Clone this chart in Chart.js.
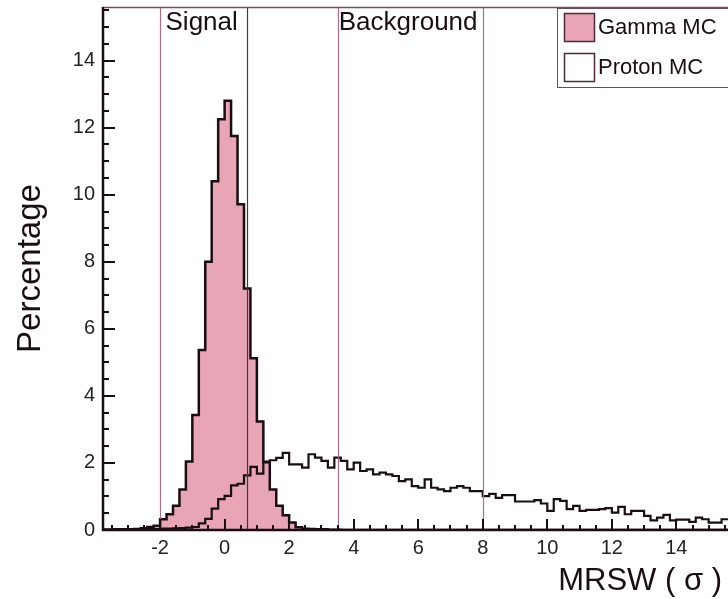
<!DOCTYPE html>
<html>
<head>
<meta charset="utf-8">
<script src="https://cdn.jsdelivr.net/npm/chart.js@4/dist/chart.umd.min.js"></script>
<style>
  html, body { margin: 0; padding: 0; background: #fff; }
</style>
</head>
<body>
<canvas id="chart" width="728" height="599"></canvas>
<script>
// histogram binning (lower edges + final upper edge), MRSW in sigma
const binEdges = [
  -3.8, -3.6, -3.4, -3.2, -3, -2.8, -2.6, -2.4, -2.2, -2,
  -1.8, -1.6, -1.4, -1.2, -1, -0.8, -0.6, -0.4, -0.2, 0,
  0.2, 0.4, 0.6, 0.8, 1, 1.2, 1.4, 1.6, 1.8, 2,
  2.2, 2.4, 2.6, 2.8, 3, 3.2, 3.4, 3.6, 3.8, 4,
  4.2, 4.4, 4.6, 4.8, 5, 5.2, 5.4, 5.6, 5.8, 6,
  6.2, 6.4, 6.6, 6.8, 7, 7.2, 7.4, 7.6, 7.8, 8,
  8.2, 8.4, 8.6, 8.8, 9, 9.2, 9.4, 9.6, 9.8, 10,
  10.2, 10.4, 10.6, 10.8, 11, 11.2, 11.4, 11.6, 11.8, 12,
  12.2, 12.4, 12.6, 12.8, 13, 13.2, 13.4, 13.6, 13.8, 14,
  14.2, 14.4, 14.6, 14.8, 15, 15.2, 15.4, 15.6,
];

// percentage per bin
const gammaPct = [
  0.01, 0.01, 0.02, 0.02, 0.02, 0.03, 0.05, 0.09, 0.13, 0.32,
  0.47, 0.72, 1.21, 2.04, 3.43, 5.37, 8.0, 10.4, 12.25, 12.8,
  11.75, 9.72, 7.2, 5.12, 3.24, 2.02, 1.21, 0.72, 0.44, 0.22,
  0.08, 0.04, 0.03, 0.02, 0.02, 0.01, 0.01, 0, 0, 0,
  0, 0, 0, 0, 0, 0, 0, 0, 0, 0,
  0, 0, 0, 0, 0, 0, 0, 0, 0, 0,
  0, 0, 0, 0, 0, 0, 0, 0, 0, 0,
  0, 0, 0, 0, 0, 0, 0, 0, 0, 0,
  0, 0, 0, 0, 0, 0, 0, 0, 0, 0,
  0, 0, 0, 0, 0, 0, 0,
];

const protonPct = [
  0.01, 0.01, 0.01, 0.01, 0.02, 0.02, 0.02, 0.03, 0.03, 0.04,
  0.04, 0.05, 0.06, 0.07, 0.09, 0.2, 0.33, 0.64, 0.92, 1.02,
  1.33, 1.38, 1.63, 1.88, 1.68, 2.04, 2.08, 2.15, 2.3, 1.96,
  1.96, 1.86, 2.26, 2.16, 2.06, 1.86, 2.16, 2.06, 1.81, 2.01,
  1.76, 1.81, 1.66, 1.71, 1.66, 1.61, 1.46, 1.51, 1.31, 1.26,
  1.51, 1.26, 1.21, 1.16, 1.26, 1.31, 1.26, 1.16, 1.16, 1.01,
  1.08, 0.96, 1.04, 1.04, 0.85, 0.85, 0.85, 0.89, 0.79, 0.57,
  0.92, 0.87, 0.62, 0.72, 0.57, 0.6, 0.6, 0.62, 0.65, 0.52,
  0.69, 0.47, 0.57, 0.57, 0.42, 0.29, 0.37, 0.45, 0.29, 0.31,
  0.31, 0.24, 0.37, 0.32, 0.22, 0.22, 0.32,
];

const seriesNames = ["Gamma MC", "Proton MC"];
const cutValues = [-2, 0.7, 3.5, 8];
const regionNames = ["Signal", "Background"];

const PINK = "#e7a5b5";
const INK = "#1a0d13";
const FONT = '"Liberation Sans", Arial, sans-serif';

function toSteps(values) {
  // one point per lower edge, last edge repeats the last value
  return binEdges.map((e, i) => ({ x: e, y: values[Math.min(i, values.length - 1)] }));
}

function noEdgePadding(scale) {
  scale.paddingTop = 0;
  scale.paddingBottom = 0;
  scale.paddingLeft = 0;
  scale.paddingRight = 0;
}

const decor = {
  id: "decor",
  afterDatasetsDraw(chart) {
    const { ctx, chartArea: a, scales: { x, y } } = chart;
    ctx.save();

    // cut lines
    cutValues.forEach((v, i) => {
      const px = Math.round(x.getPixelForValue(v)) + 0.5;
      ctx.strokeStyle = i === 1 ? "#4b3441" : "#a86f8a";
      ctx.lineWidth = 1.2;
      ctx.beginPath();
      ctx.moveTo(px, a.top);
      ctx.lineTo(px, a.bottom);
      ctx.stroke();
    });

    // region names centred between pairs of cuts
    ctx.fillStyle = INK;
    ctx.font = `26px ${FONT}`;
    ctx.textAlign = "center";
    ctx.textBaseline = "alphabetic";
    regionNames.forEach((name, i) => {
      const l = x.getPixelForValue(cutValues[i * 2]);
      const r = x.getPixelForValue(cutValues[i * 2 + 1]);
      ctx.fillText(name, (l + r) / 2 - 2, 30);
    });

    // frame top
    ctx.strokeStyle = "#7d4a62";
    ctx.lineWidth = 1.5;
    ctx.beginPath();
    ctx.moveTo(a.left, a.top + 0.5);
    ctx.lineTo(a.right, a.top + 0.5);
    ctx.stroke();

    // axes
    ctx.strokeStyle = INK;
    ctx.lineWidth = 2.5;
    ctx.beginPath();
    ctx.moveTo(a.left + 1, a.top);
    ctx.lineTo(a.left + 1, a.bottom);
    ctx.lineTo(a.right, a.bottom);
    ctx.stroke();

    // inward ticks
    ctx.lineWidth = 2;
    ctx.beginPath();
    for (let v = 0.5; v < y.max; v += 0.5) {
      const py = Math.round(y.getPixelForValue(v));
      const len = v % 2 === 0 ? 13 : 7;
      ctx.moveTo(a.left, py);
      ctx.lineTo(a.left + len, py);
    }
    for (let v = -3.5; v < x.max; v += 0.5) {
      const px = Math.round(x.getPixelForValue(v));
      const len = v % 2 === 0 ? 11 : 5;
      ctx.moveTo(px, a.bottom);
      ctx.lineTo(px, a.bottom - len);
    }
    ctx.stroke();
    ctx.restore();
  },
  afterDraw(chart) {
    const { ctx, chartArea: a } = chart;
    ctx.save();

    // axis titles
    ctx.fillStyle = INK;
    ctx.font = `31px ${FONT}`;
    ctx.textAlign = "right";
    ctx.textBaseline = "alphabetic";
    ctx.fillText("MRSW ( σ )", 722, 590);

    ctx.translate(40, (a.top + a.bottom) / 2);
    ctx.rotate(-Math.PI / 2);
    ctx.font = `33px ${FONT}`;
    ctx.textAlign = "center";
    ctx.fillText("Percentage", 0, 0);
    ctx.setTransform(1, 0, 0, 1, 0, 0);

    // legend
    const lx = 557, ly = 8, lw = 180, lh = 79;
    ctx.fillStyle = "#fff";
    ctx.fillRect(lx, ly, lw, lh);
    ctx.strokeStyle = "#6b4a5a";
    ctx.lineWidth = 1;
    ctx.strokeRect(lx + 0.5, ly + 0.5, lw, lh);

    const swatch = [PINK, "#fff"];
    ctx.font = `22px ${FONT}`;
    ctx.textAlign = "left";
    ctx.textBaseline = "middle";
    seriesNames.forEach((name, i) => {
      const sy = 13 + i * 40;
      ctx.fillStyle = swatch[i];
      ctx.fillRect(564, sy, 31, 29);
      ctx.strokeStyle = "#4b2a3a";
      ctx.lineWidth = 1.5;
      ctx.strokeRect(564.5, sy + 0.5, 30, 28);
      ctx.fillStyle = INK;
      ctx.fillText(name, 598, sy + 15);
    });
    ctx.restore();
  },
};

new Chart(document.getElementById("chart"), {
  type: "line",
  data: {
    datasets: [
      {
        label: seriesNames[0],
        data: toSteps(gammaPct),
        stepped: "before",
        fill: "origin",
        backgroundColor: PINK,
        borderColor: INK,
        borderWidth: 2.5,
        pointRadius: 0,
        order: 2,
      },
      {
        label: seriesNames[1],
        data: toSteps(protonPct),
        stepped: "before",
        fill: false,
        borderColor: INK,
        borderWidth: 2.2,
        pointRadius: 0,
        order: 1,
      },
    ],
  },
  options: {
    responsive: false,
    animation: false,
    devicePixelRatio: 1,
    layout: { padding: { top: 7, right: 0, left: 0, bottom: 0 } },
    plugins: { legend: { display: false }, tooltip: { enabled: false } },
    scales: {
      x: {
        type: "linear",
        min: -3.8,
        max: 15.6,
        grid: { display: false, drawTicks: false },
        border: { display: false },
        ticks: {
          stepSize: 2,
          includeBounds: false,
          padding: 6,
          maxRotation: 0,
          color: "#222",
          font: { family: FONT, size: 20 },
        },
        afterFit(scale) {
          scale.height = 69;
          noEdgePadding(scale);
        },
      },
      y: {
        min: 0,
        max: 15.6,
        grid: { display: false, drawTicks: false },
        border: { display: false },
        ticks: {
          stepSize: 2,
          includeBounds: false,
          padding: 7,
          color: "#222",
          font: { family: FONT, size: 20 },
        },
        afterFit(scale) {
          scale.width = 102;
          noEdgePadding(scale);
        },
      },
    },
  },
  plugins: [decor],
});
</script>
</body>
</html>
